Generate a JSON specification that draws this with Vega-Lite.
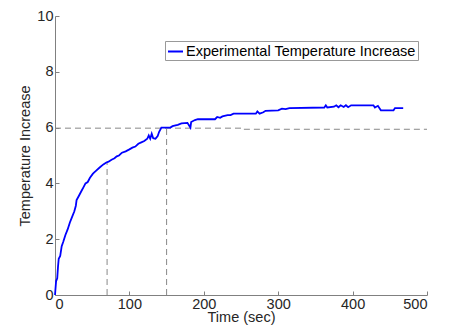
{
  "$schema": "https://vega.github.io/schema/vega-lite/v6.json",
  "width": 372,
  "height": 279,
  "autosize": {"type": "none"},
  "padding": {"left": 55, "top": 16, "right": 23, "bottom": 30},
  "background": "white",
  "config": {
    "font": "Liberation Sans",
    "view": {"stroke": null},
    "axis": {
      "grid": false,
      "domainColor": "#808080",
      "tickColor": "#808080",
      "labelColor": "#262626",
      "titleColor": "#262626",
      "labelFontSize": 14.5,
      "titleFontSize": 14.5,
      "titleFontWeight": "normal",
      "labelFont": "Liberation Sans",
      "titleFont": "Liberation Sans",
      "tickSize": -4
    }
  },
  "datasets": {
    "curve": [
      {"t":0,"v":0.0},{"t":0.5,"v":0.17},{"t":1.5,"v":0.5},{"t":3,"v":0.6},{"t":4,"v":1.0},{"t":5,"v":1.3},
      {"t":7,"v":1.4},{"t":9,"v":1.75},{"t":11,"v":1.9},{"t":14,"v":2.15},{"t":17,"v":2.35},{"t":20,"v":2.6},
      {"t":23,"v":2.8},{"t":26,"v":3.0},{"t":28,"v":3.2},{"t":29,"v":3.4},{"t":32,"v":3.55},{"t":35,"v":3.7},
      {"t":38,"v":3.85},{"t":41,"v":4.0},{"t":44,"v":4.05},{"t":47,"v":4.2},{"t":51,"v":4.35},{"t":55,"v":4.45},
      {"t":60,"v":4.57},{"t":65,"v":4.68},{"t":69,"v":4.75},{"t":72,"v":4.78},{"t":76,"v":4.85},{"t":80,"v":4.9},
      {"t":83,"v":4.97},{"t":86,"v":5.0},{"t":90,"v":5.1},{"t":95,"v":5.15},{"t":100,"v":5.22},{"t":104,"v":5.28},
      {"t":108,"v":5.32},{"t":112,"v":5.42},{"t":116,"v":5.47},{"t":120,"v":5.52},{"t":124,"v":5.6},{"t":126,"v":5.72},
      {"t":128,"v":5.6},{"t":130,"v":5.78},{"t":132,"v":5.62},{"t":135,"v":5.6},{"t":138,"v":5.7},{"t":140,"v":5.85},
      {"t":143,"v":6.0},{"t":148,"v":6.0},{"t":155,"v":6.0},{"t":158,"v":6.05},{"t":162,"v":6.08},{"t":165,"v":6.1},
      {"t":170,"v":6.15},{"t":178,"v":6.17},{"t":182,"v":6.0},{"t":183,"v":6.2},{"t":188,"v":6.27},{"t":192,"v":6.3},
      {"t":215,"v":6.3},{"t":218,"v":6.38},{"t":222,"v":6.35},{"t":225,"v":6.4},{"t":232,"v":6.45},{"t":236,"v":6.45},
      {"t":240,"v":6.5},{"t":270,"v":6.5},{"t":272,"v":6.58},{"t":275,"v":6.5},{"t":280,"v":6.55},{"t":283,"v":6.6},
      {"t":300,"v":6.62},{"t":305,"v":6.68},{"t":310,"v":6.66},{"t":315,"v":6.7},{"t":362,"v":6.72},{"t":364,"v":6.8},
      {"t":366,"v":6.72},{"t":375,"v":6.75},{"t":378,"v":6.8},{"t":381,"v":6.73},{"t":384,"v":6.8},{"t":388,"v":6.74},
      {"t":391,"v":6.8},{"t":394,"v":6.73},{"t":398,"v":6.8},{"t":402,"v":6.8},{"t":428,"v":6.8},{"t":430,"v":6.72},
      {"t":434,"v":6.78},{"t":438,"v":6.62},{"t":455,"v":6.62},{"t":457,"v":6.7},{"t":468,"v":6.7}
    ],
    "guides": [
      {"g":"h","x":0,"y":5.98},{"g":"h","x":250,"y":5.98},{"g":"h","x":250,"y":5.94},{"g":"h","x":500,"y":5.94},
      {"g":"v1","x":70,"y":0},{"g":"v1","x":70,"y":4.77},
      {"g":"v2","x":150,"y":0},{"g":"v2","x":150,"y":6.0}
    ]
  },
  "layer": [
    {
      "data": {"name": "guides"},
      "mark": {"type": "line", "color": "#888888", "strokeWidth": 1, "strokeDash": [6, 4]},
      "encoding": {
        "x": {"field": "x", "type": "quantitative", "scale": {"domain": [0, 500]}},
        "y": {"field": "y", "type": "quantitative", "scale": {"domain": [0, 10]}},
        "detail": {"field": "g"},
        "order": {"field": "x"}
      }
    },
    {
      "data": {"name": "curve"},
      "transform": [{"calculate": "'Experimental Temperature Increase'", "as": "series"}],
      "mark": {"type": "line", "strokeWidth": 1.8},
      "encoding": {
        "x": {"field": "t", "type": "quantitative", "title": "Time (sec)",
              "scale": {"domain": [0, 500]},
              "axis": {"values": [0,100,200,300,400,500], "labelPadding": 6, "titlePadding": 0}},
        "y": {"field": "v", "type": "quantitative", "title": "Temperature Increase",
              "scale": {"domain": [0, 10]},
              "axis": {"values": [0,2,4,6,8,10], "labelPadding": 6, "titlePadding": 4}},
        "color": {"field": "series", "type": "nominal",
                  "scale": {"range": ["#0000ff"]},
                  "legend": {"title": null, "orient": "none", "legendX": 110, "legendY": 25,
                             "symbolType": "stroke", "symbolSize": 225, "symbolStrokeWidth": 2,
                             "labelFontSize": 14.5, "labelFont": "Liberation Sans", "labelColor": "#000000",
                             "labelOffset": 2, "strokeColor": "#999999", "padding": 2, "fillColor": "white",
                             "labelLimit": 400}}
      }
    }
  ]
}
